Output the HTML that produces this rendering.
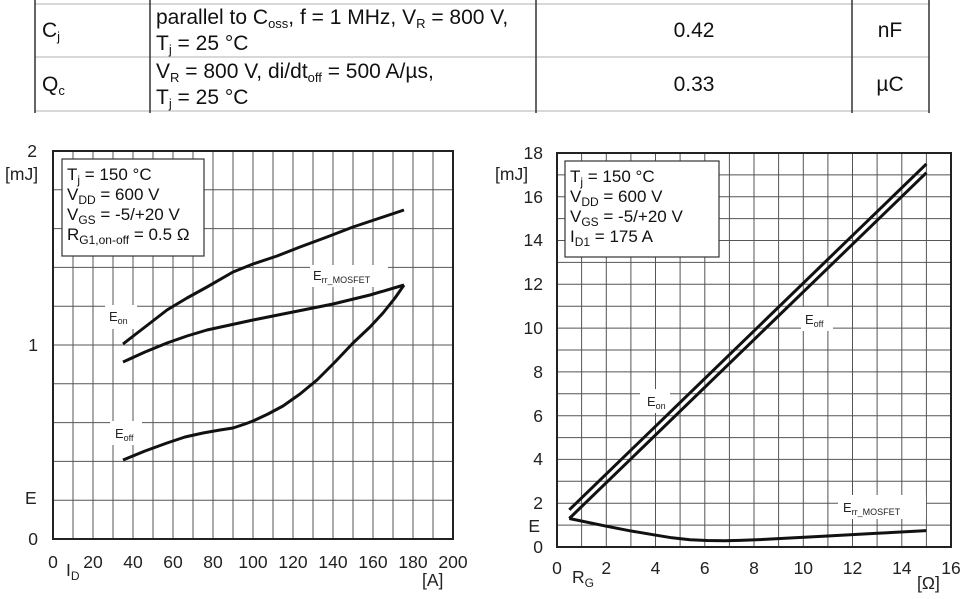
<!DOCTYPE html>
<html><head><meta charset="utf-8"><style>
html,body{margin:0;padding:0;background:#fff;}
svg{display:block;font-family:"Liberation Sans",Arial,sans-serif;}
</style></head><body>
<svg width="975" height="599" viewBox="0 0 975 599" xmlns="http://www.w3.org/2000/svg">
<!-- table -->
<g stroke="#ccc" stroke-width="1.5">
<line x1="35" y1="4" x2="929" y2="4"/><line x1="35" y1="57" x2="929" y2="57"/><line x1="35" y1="111" x2="929" y2="111"/>
</g>
<g stroke="#333" stroke-width="1.5">
<line x1="35" y1="0" x2="35" y2="113"/><line x1="150" y1="0" x2="150" y2="113"/><line x1="536" y1="0" x2="536" y2="113"/><line x1="852" y1="0" x2="852" y2="113"/><line x1="929" y1="0" x2="929" y2="113"/>
</g>
<g font-size="21" fill="#111">
<text x="42" y="37">C<tspan font-size="13" dy="4">j</tspan></text>
<text x="156" y="24">parallel to C<tspan font-size="13" dy="4">oss</tspan><tspan dy="-4">, f = 1 MHz, V</tspan><tspan font-size="13" dy="4">R</tspan><tspan dy="-4"> = 800 V,</tspan></text>
<text x="156" y="50">T<tspan font-size="13" dy="4">j</tspan><tspan dy="-4"> = 25 °C</tspan></text>
<text x="694" y="37" text-anchor="middle">0.42</text>
<text x="890" y="37" text-anchor="middle">nF</text>
<text x="42" y="91">Q<tspan font-size="13" dy="4">c</tspan></text>
<text x="156" y="78">V<tspan font-size="13" dy="4">R</tspan><tspan dy="-4"> = 800 V, di/dt</tspan><tspan font-size="13" dy="4">off</tspan><tspan dy="-4"> = 500 A/µs,</tspan></text>
<text x="156" y="104">T<tspan font-size="13" dy="4">j</tspan><tspan dy="-4"> = 25 °C</tspan></text>
<text x="694" y="91" text-anchor="middle">0.33</text>
<text x="890" y="91" text-anchor="middle">µC</text>
</g>

<!-- LEFT CHART -->
<g stroke="#555" stroke-width="1">
<path d="M73 151V539M93 151V539M113 151V539M133 151V539M153 151V539M173 151V539M193 151V539M213 151V539M233 151V539M253 151V539M273 151V539M293 151V539M313 151V539M333 151V539M353 151V539M373 151V539M393 151V539M413 151V539M433 151V539"/>
<path d="M53 500.2H453M53 461.4H453M53 422.6H453M53 383.8H453M53 345H453M53 306.2H453M53 267.4H453M53 228.6H453M53 189.8H453"/>
</g>
<rect x="53" y="151" width="400" height="388" fill="none" stroke="#222" stroke-width="2"/>
<rect x="62" y="159" width="142" height="97" fill="#fff" stroke="#333" stroke-width="1.2"/>
<g font-size="17" fill="#111">
<text x="67" y="180">T<tspan font-size="12" dy="4">j</tspan><tspan dy="-4">  = 150 °C</tspan></text>
<text x="67" y="200">V<tspan font-size="12" dy="4">DD</tspan><tspan dy="-4"> = 600 V</tspan></text>
<text x="67" y="220">V<tspan font-size="12" dy="4">GS</tspan><tspan dy="-4"> = -5/+20 V</tspan></text>
<text x="67" y="240">R<tspan font-size="12" dy="4">G1,on-off</tspan><tspan dy="-4"> = 0.5 Ω</tspan></text>
</g>
<rect x="105" y="305" width="32" height="24" fill="#fff"/>
<rect x="310" y="265" width="78" height="22" fill="#fff"/>
<rect x="110" y="421" width="32" height="24" fill="#fff"/>
<g font-size="13" fill="#222">
<text x="109" y="321">E<tspan font-size="9" dy="3">on</tspan></text>
<text x="313" y="280">E<tspan font-size="9" dy="3">rr_MOSFET</tspan></text>
<text x="115" y="438">E<tspan font-size="9" dy="3">off</tspan></text>
</g>
<g fill="none" stroke="#111" stroke-width="3" stroke-linejoin="round">
<polyline points="123,344 145,327 167,310 187,298 207,287 233,272 253,264 277,256 300,247 327,237 353,227 380,218 404,210"/>
<polyline points="123,362 145,352 167,343 187,336 207,330 230,325 253,320 293,312 333,304 370,295 404,285"/>
<polyline points="123,460 145,451 167,443 185,437 203,433 220,430 233,428 245,424 253,421 268,414 283,406 300,394 317,380 335,362 353,343 370,327 383,313 395,298 404,285"/>
</g>
<g font-size="17.5" fill="#222">
<text x="37" y="157" text-anchor="end">2</text>
<text x="5" y="180">[mJ]</text>
<text x="38" y="351" text-anchor="end">1</text>
<text x="25" y="504">E</text>
<text x="38" y="545" text-anchor="end">0</text>
<g text-anchor="middle">
<text x="53" y="568">0</text><text x="93" y="568">20</text><text x="133" y="568">40</text><text x="173" y="568">60</text><text x="213" y="568">80</text><text x="253" y="568">100</text><text x="293" y="568">120</text><text x="333" y="568">140</text><text x="373" y="568">160</text><text x="413" y="568">180</text><text x="453" y="568">200</text>
</g>
<text x="66" y="576">I<tspan font-size="12" dy="4">D</tspan></text>
<text x="422" y="586">[A]</text>
</g>

<!-- RIGHT CHART -->
<g stroke="#555" stroke-width="1">
<path d="M581.6 153V547M606.3 153V547M630.9 153V547M655.5 153V547M680.1 153V547M704.8 153V547M729.4 153V547M754 153V547M778.6 153V547M803.3 153V547M827.9 153V547M852.5 153V547M877.1 153V547M901.8 153V547M926.4 153V547"/>
<path d="M557 525.1H951M557 503.2H951M557 481.3H951M557 459.4H951M557 437.6H951M557 415.7H951M557 393.8H951M557 371.9H951M557 350H951M557 328.1H951M557 306.2H951M557 284.3H951M557 262.4H951M557 240.5H951M557 218.6H951M557 196.8H951M557 174.9H951"/>
</g>
<rect x="557" y="153" width="394" height="394" fill="none" stroke="#222" stroke-width="2"/>
<rect x="565" y="161" width="154" height="96" fill="#fff" stroke="#333" stroke-width="1.2"/>
<g font-size="17" fill="#111">
<text x="570" y="182">T<tspan font-size="12" dy="4">j</tspan><tspan dy="-4"> = 150 °C</tspan></text>
<text x="570" y="202">V<tspan font-size="12" dy="4">DD</tspan><tspan dy="-4"> = 600 V</tspan></text>
<text x="570" y="222">V<tspan font-size="12" dy="4">GS</tspan><tspan dy="-4"> = -5/+20 V</tspan></text>
<text x="570" y="242">I<tspan font-size="12" dy="4">D1</tspan><tspan dy="-4"> = 175 A</tspan></text>
</g>
<rect x="640" y="389" width="30" height="24" fill="#fff"/>
<rect x="801" y="307" width="32" height="24" fill="#fff"/>
<rect x="838" y="495" width="88" height="24" fill="#fff"/>
<g font-size="13" fill="#222">
<text x="647" y="406">E<tspan font-size="9" dy="3">on</tspan></text>
<text x="805" y="324">E<tspan font-size="9" dy="3">off</tspan></text>
<text x="843" y="512">E<tspan font-size="9" dy="3">rr_MOSFET</tspan></text>
</g>
<g fill="none" stroke="#111" stroke-width="3" stroke-linejoin="round">
<line x1="569.3" y1="509.8" x2="926.4" y2="163.9"/>
<line x1="569.3" y1="518.5" x2="926.4" y2="172.7"/>
<polyline points="569.3,518.5 606.3,526.2 630,530.8 653,534.7 672,537.8 690,539.8 707,540.5 724.5,540.7 740,540.4 756.5,539.8 790,538 823,536.3 875,533.4 926.4,530.6"/>
</g>
<g font-size="17.5" fill="#222" text-anchor="end">
<text x="543" y="159">18</text><text x="543" y="203">16</text><text x="543" y="246">14</text><text x="543" y="290">12</text><text x="543" y="334">10</text><text x="543" y="378">8</text><text x="543" y="422">6</text><text x="543" y="465">4</text><text x="543" y="509">2</text><text x="540" y="532">E</text><text x="543" y="553">0</text>
</g>
<g font-size="17.5" fill="#222">
<text x="495" y="180">[mJ]</text>
<g text-anchor="middle">
<text x="557" y="574">0</text><text x="606.3" y="574">2</text><text x="655.5" y="574">4</text><text x="704.8" y="574">6</text><text x="754" y="574">8</text><text x="803.3" y="574">10</text><text x="852.5" y="574">12</text><text x="901.8" y="574">14</text><text x="951" y="574">16</text>
</g>
<text x="572" y="583">R<tspan font-size="12" dy="4">G</tspan></text>
<text x="917" y="589">[Ω]</text>
</g>
</svg>
</body></html>
